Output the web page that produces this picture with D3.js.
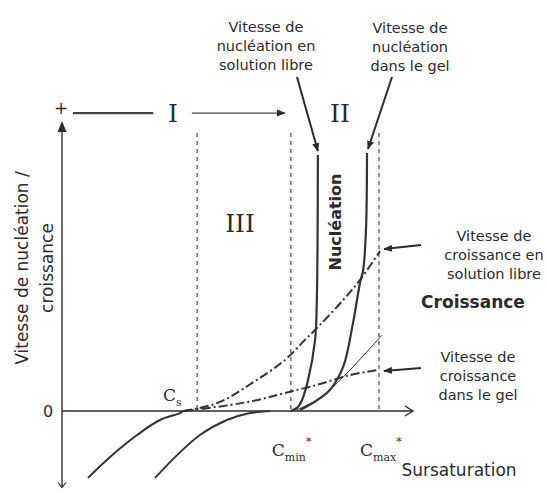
<!DOCTYPE html>
<meta charset="utf-8">
<script src="https://d3js.org/d3.v7.min.js"></script>
<style>
  body { margin: 0; background: #fff; }
  text { font-family: "DejaVu Sans", sans-serif; fill: #2b2b2b; }
  .serif { font-family: "DejaVu Serif", "Liberation Serif", serif; }
</style>
<body>
<div id="chart"></div>
<script>
// curves (x = sursaturation, y = vitesse, arbitrary units)
var dissolLibreX = [0.74, 1.37, 2.14, 2.79, 3.36, 3.45]
var dissolLibreY = [-2.23, -1.53, -0.8, -0.3, -0.07, 0]
var dissolGelX = [2.65, 3.28, 3.93, 4.7, 5.36, 5.93]
var dissolGelY = [-2.23, -1.47, -0.8, -0.3, -0.07, 0]
var croisLibreX = [3.45, 4.44, 5.41, 6.35, 6.92, 7.35, 8.01, 8.49, 9.06]
var croisLibreY = [0, 0.27, 0.93, 1.7, 2.37, 2.87, 3.7, 4.37, 5.33]
var croisGelX = [3.5, 4.79, 5.58, 6.35, 7.26, 8.21, 9.03]
var croisGelY = [0, 0.2, 0.37, 0.6, 0.87, 1.2, 1.37]
var nuclLibreX = [6.52, 6.72, 6.84, 7.01, 7.21, 7.26, 7.29]
var nuclLibreY = [0, 0.13, 0.37, 1.03, 2.37, 3.7, 8.53]
var nuclGelX = [6.78, 7.15, 7.63, 8.01, 8.29, 8.49, 8.58, 8.66, 8.69]
var nuclGelY = [0.03, 0.27, 0.7, 1.47, 2.93, 4.27, 4.7, 6.03, 8.6]
var thinX = [6.67, 7.35, 8.01, 8.55, 9.12]
var thinY = [0.03, 0.43, 1.13, 1.8, 2.53]

// concentrations and zone limits
var concNames = ["s", "min", "max"]
var concValues = [3.45, 6.52, 9.03]
var concStar = [false, true, true]
var limitValues = [3.85, 6.52, 9.03]
var limitTop = 9.27

var zoneNames = ["I", "II", "III"]
var zoneX = [3.16, 7.92, 5.07]
var zoneY = [9.93, 9.93, 6.27]

var width = 547, height = 493

var x = d3.scaleLinear().domain([0, 10]).range([62, 413])
var y = d3.scaleLinear().domain([-2.5, 10]).range([486, 111])

var svg = d3.select("#chart").append("svg")
  .attr("width", width).attr("height", height)

var defs = svg.append("defs")
defs.append("marker").attr("id", "head")
  .attr("viewBox", "0 0 10 10").attr("refX", 9).attr("refY", 5)
  .attr("markerWidth", 9).attr("markerHeight", 9).attr("orient", "auto")
  .attr("markerUnits", "userSpaceOnUse")
  .append("path").attr("d", "M0,1 L10,5 L0,9 Z").attr("fill", "#2b2b2b")

var line = d3.line()
  .x(function(d) { return x(d[0]) })
  .y(function(d) { return y(d[1]) })
  .curve(d3.curveCatmullRom.alpha(0.5))

function pts(xs, ys) { return xs.map(function(v, i) { return [v, ys[i]] }) }

// vertical limits
svg.selectAll(".limit").data(limitValues).enter().append("line")
  .attr("class", "limit")
  .attr("x1", function(d) { return x(d) }).attr("x2", function(d) { return x(d) })
  .attr("y1", y(limitTop)).attr("y2", y(0))
  .attr("stroke", "#555").attr("stroke-width", 1.3)
  .attr("stroke-dasharray", "4,4")

// axes
var ax = svg.append("g").attr("stroke", "#2b2b2b").attr("fill", "none")
ax.append("line").attr("x1", x(0)).attr("x2", x(10)).attr("y1", y(0)).attr("y2", y(0))
  .attr("stroke-width", 1.6)
ax.append("path").attr("d", "M" + (x(10) - 8) + "," + (y(0) - 5) + " L" + x(10) + "," + y(0) + " L" + (x(10) - 8) + "," + (y(0) + 5))
  .attr("stroke-width", 1.4)
ax.append("line").attr("x1", x(0)).attr("x2", x(0)).attr("y1", y(-2.55)).attr("y2", y(9.5))
  .attr("stroke-width", 1.4)
ax.append("path").attr("d", "M" + (x(0) - 4.5) + "," + (y(9.3)) + " L" + x(0) + "," + (y(9.3) - 11) + " L" + (x(0) + 4.5) + "," + y(9.3) + " Z")
  .attr("fill", "#2b2b2b").attr("stroke", "none")
ax.append("path").attr("d", "M" + (x(0) - 4) + "," + (y(-2.55) - 5) + " L" + x(0) + "," + y(-2.55) + " L" + (x(0) + 4) + "," + (y(-2.55) - 5))
  .attr("stroke-width", 1.2)

// curves
var curves = [
  { p: pts(dissolLibreX, dissolLibreY), w: 2, dash: null },
  { p: pts(dissolGelX, dissolGelY), w: 2, dash: null },
  { p: pts(thinX, thinY), w: 1, dash: null },
  { p: pts(croisLibreX, croisLibreY), w: 2, dash: "9,3,2,3" },
  { p: pts(croisGelX, croisGelY), w: 2, dash: "9,3,2,3" },
  { p: pts(nuclLibreX, nuclLibreY), w: 2.2, dash: null },
  { p: pts(nuclGelX, nuclGelY), w: 2.2, dash: null }
]
svg.selectAll(".curve").data(curves).enter().append("path")
  .attr("class", "curve")
  .attr("d", function(d) { return line(d.p) })
  .attr("fill", "none").attr("stroke", "#333")
  .attr("stroke-width", function(d) { return d.w })
  .attr("stroke-dasharray", function(d) { return d.dash })

// zone arrow at the top
var zoneLineY = y(zoneY[0])
svg.append("line").attr("x1", x(0.31)).attr("x2", x(2.6)).attr("y1", zoneLineY).attr("y2", zoneLineY)
  .attr("stroke", "#444").attr("stroke-width", 2.2)
svg.append("line").attr("x1", x(3.7)).attr("x2", x(6.35)).attr("y1", zoneLineY).attr("y2", zoneLineY)
  .attr("stroke", "#444").attr("stroke-width", 1.2).attr("marker-end", "url(#head)")

svg.selectAll(".zone").data(zoneNames).enter().append("text")
  .attr("class", "serif")
  .attr("x", function(d, i) { return x(zoneX[i]) })
  .attr("y", function(d, i) { return y(zoneY[i]) })
  .attr("dy", "0.36em").attr("text-anchor", "middle")
  .style("font-size", "25px")
  .text(function(d) { return d })

// axis labels
svg.append("text").attr("x", 48).attr("y", y(0)).attr("dy", "0.36em")
  .attr("text-anchor", "middle").style("font-size", "16px").text("0")
svg.append("text").attr("x", x(0) - 1).attr("y", 108).attr("dy", "0.36em")
  .attr("text-anchor", "middle").style("font-size", "17px").text("+")
var ylab = svg.append("g").attr("transform", "translate(22,268) rotate(-90)")
ylab.append("text").attr("text-anchor", "middle").attr("dy", "0.36em")
  .style("font-size", "17px").text("Vitesse de nucléation /")
ylab.append("text").attr("text-anchor", "middle").attr("y", 25).attr("dy", "0.36em")
  .style("font-size", "17px").text("croissance")
svg.append("text").attr("x", 459).attr("y", 470).attr("dy", "0.36em")
  .attr("text-anchor", "middle").style("font-size", "17px").text("Sursaturation")

// concentration labels
var conc = svg.selectAll(".conc").data(concNames).enter().append("text")
  .attr("class", "serif")
  .attr("x", function(d, i) { return i == 0 ? x(concValues[i]) - 20 : x(concValues[i]) - 19 })
  .attr("y", function(d, i) { return i == 0 ? 401 : 456 })
  .style("font-size", "17px")
conc.append("tspan").text("C")
conc.append("tspan").attr("dy", 5).style("font-size", "11px").text(function(d) { return d })
conc.append("tspan").attr("dy", -16).style("font-size", "11px")
  .text(function(d, i) { return concStar[i] ? "*" : "" })

// Nucléation / Croissance
svg.append("text")
  .attr("transform", "translate(" + x(7.78) + "," + y(6.3) + ") rotate(-90)")
  .attr("text-anchor", "middle").attr("dy", "0.36em")
  .style("font-size", "16px").style("font-weight", "bold").text("Nucléation")
svg.append("text").attr("x", 473).attr("y", 302).attr("dy", "0.36em")
  .attr("text-anchor", "middle").style("font-size", "17px").style("font-weight", "bold")
  .text("Croissance")

// callout labels
var callouts = [
  { lines: ["Vitesse de", "nucléation en", "solution libre"], cx: 266, cy: 27 },
  { lines: ["Vitesse de", "nucléation", "dans le gel"], cx: 410, cy: 28 },
  { lines: ["Vitesse de", "croissance en", "solution libre"], cx: 494, cy: 236 },
  { lines: ["Vitesse de", "croissance", "dans le gel"], cx: 478, cy: 357 }
]
callouts.forEach(function(c) {
  svg.append("g").selectAll("text").data(c.lines).enter().append("text")
    .attr("x", c.cx).attr("y", function(d, i) { return c.cy + i * 19 })
    .attr("dy", "0.36em").attr("text-anchor", "middle")
    .style("font-size", "14.5px").text(function(d) { return d })
})

// callout arrows, pointing at the curves
var arrows = [
  [297, 77, x(7.29), y(8.53) - 4],
  [392, 77, x(8.69) + 1, y(8.6) - 4],
  [421, 245, x(9.06) + 4, y(5.33) - 2],
  [421, 368, x(9.03) + 5, y(1.37) + 1]
]
svg.selectAll(".arrow").data(arrows).enter().append("line")
  .attr("x1", function(d) { return d[0] }).attr("y1", function(d) { return d[1] })
  .attr("x2", function(d) { return d[2] }).attr("y2", function(d) { return d[3] })
  .attr("stroke", "#2b2b2b").attr("stroke-width", 2)
  .attr("marker-end", "url(#head)")
</script>
</body>
